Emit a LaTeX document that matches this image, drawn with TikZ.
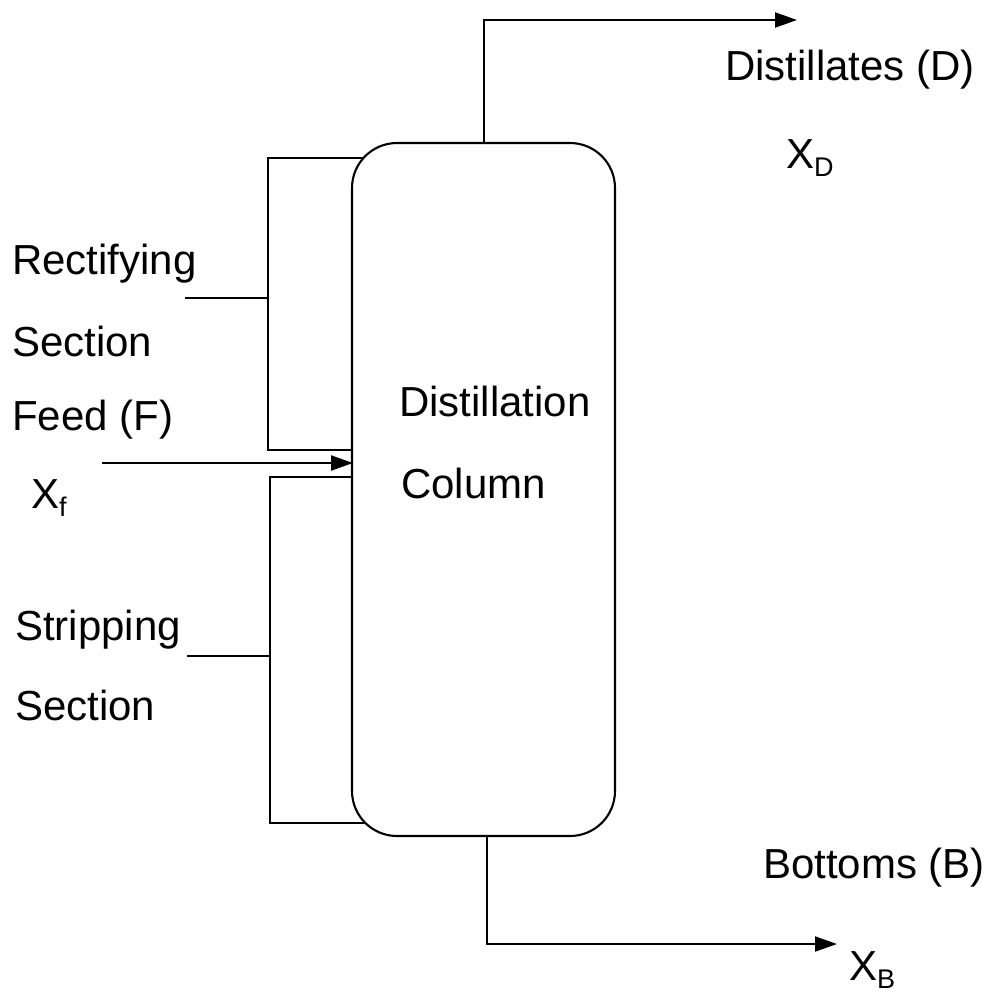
\documentclass[tikz,border=0pt]{standalone}
\usepackage{fontspec}
\setmainfont{Liberation Sans}
\usetikzlibrary{arrows.meta}
\newcommand{\subtxt}[1]{\raisebox{-0.2em}{\fontsize{27}{27}\selectfont #1}}
\begin{document}
\begin{tikzpicture}[x=1pt,y=-1pt,
  line width=2.1pt,
  lbl/.style={anchor=base west,inner sep=0pt,font=\fontsize{42}{50}\selectfont},
  flow/.style={-{Triangle[length=22pt,width=15pt]}},
  colbox/.style={draw,rounded corners=45pt,minimum width=263pt,minimum height=693pt,inner sep=0pt}]
\useasboundingbox (0,0) rectangle (987,993);
% column
\node[colbox] (col) at (483.5,489.5) {};
% top outlet
\coordinate (topout) at (484,143);
\coordinate (topturn) at (484,20);
\coordinate (topend) at (797,20);
\draw[flow] (topout) -- (topturn) -- (topend);
% bottom outlet
\coordinate (botout) at (487,836);
\coordinate (botturn) at (487,944);
\coordinate (botend) at (837,944);
\draw[flow] (botout) -- (botturn) -- (botend);
% feed
\coordinate (feedstart) at (102,463);
\coordinate (feedend) at (353,463);
\draw[flow] (feedstart) -- (feedend);
% rectifying bracket
\coordinate (r1) at (364,158);
\coordinate (r2) at (268,158);
\coordinate (r3) at (268,450);
\coordinate (r4) at (352,450);
\coordinate (rt1) at (185,298);
\coordinate (rt2) at (268,298);
\draw (r1) -- (r2) -- (r3) -- (r4);
\draw (rt1) -- (rt2);
% stripping bracket
\coordinate (s1) at (352,477);
\coordinate (s2) at (270,477);
\coordinate (s3) at (270,823);
\coordinate (s4) at (366,823);
\coordinate (st1) at (187,656);
\coordinate (st2) at (270,656);
\draw (s1) -- (s2) -- (s3) -- (s4);
\draw (st1) -- (st2);
% labels
\node[lbl] (dist) at (724,80) {Distillates (D)};
\node[lbl] (xd) at (785,168) {X\subtxt{D}};
\node[lbl] (rect) at (11,274) {Rectifying};
\node[lbl] (sec1) at (11,356) {Section};
\node[lbl] (feed) at (11,430) {Feed (F)};
\node[lbl] (xf) at (30,508) {X\subtxt{f}};
\node[lbl] (strip) at (14,640) {Stripping};
\node[lbl] (sec2) at (14,720) {Section};
\node[lbl] (dl) at (398,416) {Distillation};
\node[lbl] (cl) at (400,498) {Column};
\node[lbl] (bot) at (762,878) {Bottoms (B)};
\node[lbl] (xb) at (848,980) {X\subtxt{B}};
\end{tikzpicture}
\end{document}
